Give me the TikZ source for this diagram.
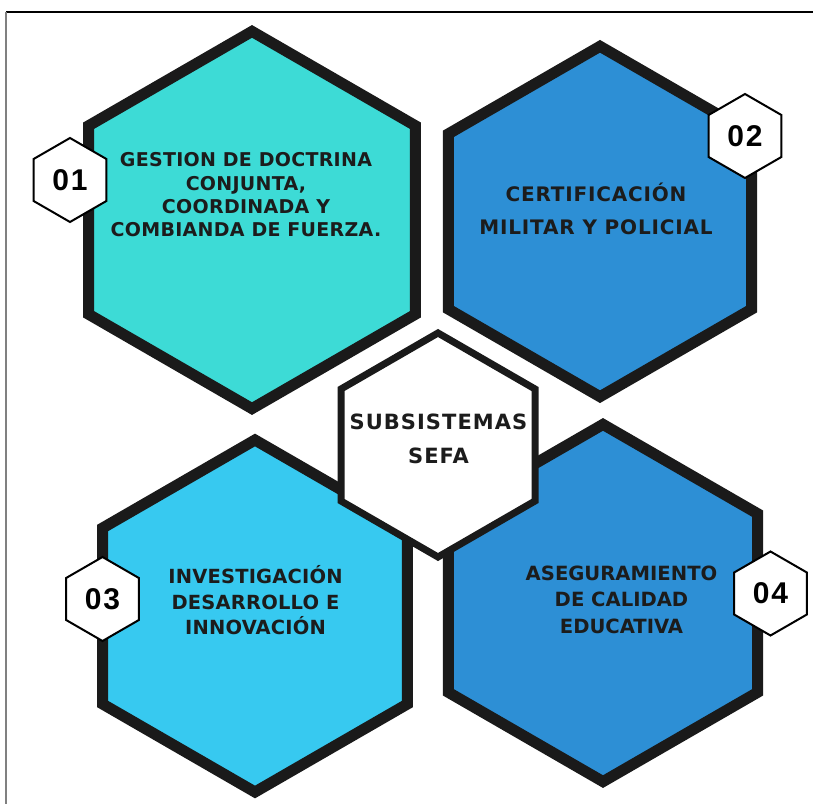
\documentclass[tikz,border=0pt]{standalone}
\usepackage{fontspec}
\setmainfont{Liberation Sans}
\newfontfamily\lblfont{DejaVu Sans}
\definecolor{hexline}{HTML}{1A1A1A}
\definecolor{tealA}{HTML}{3DDBD6}
\definecolor{blueB}{HTML}{2D8FD5}
\definecolor{skyC}{HTML}{37C9F0}
\definecolor{blueD}{HTML}{2D8FD5}
\definecolor{txt}{HTML}{1C1C1C}
\definecolor{frameg}{HTML}{808080}
\begin{document}
\begin{tikzpicture}[x=0.75pt,y=0.75pt,
  pics/hexa/.style={code={\path[pic actions] (90:#1) -- (150:#1) -- (210:#1) -- (270:#1) -- (330:#1) -- (30:#1) -- cycle;}},
  bighex/.style={draw=hexline, line width=8.25pt, line join=miter},
  midhex/.style={draw=hexline, line width=5.25pt, line join=miter, fill=white},
  badgehex/.style={draw=black, line width=1.5pt, line join=miter, fill=white},
  lbl/.style={align=center, text=txt, inner sep=0pt, outer sep=0pt},
  numlbl/.style={text=black, inner sep=0pt, outer sep=0pt,
    font={\bfseries\fontsize{22.5}{24}\selectfont\addfontfeatures{LetterSpace=6}}}
]
\useasboundingbox (0,0) rectangle (813,804);
% frame
\draw[black, line width=0.9pt] (6,792) -- (813,792);
\draw[frameg, line width=1.1pt] (6,792) -- (6,0);
% centres
\coordinate (h1) at (252,584);
\coordinate (h2) at (600,582.5);
\coordinate (h3) at (255,188);
\coordinate (h4) at (603,201);
\coordinate (hc) at (438,359);
\coordinate (b1) at (70,624);
\coordinate (b2) at (745,668);
\coordinate (b3) at (102.5,205);
\coordinate (b4) at (770.5,210.5);
% hexagons
\pic[bighex, fill=tealA] at (h1) {hexa=188.6};
\pic[bighex, fill=blueB] at (h2) {hexa=175.2};
\pic[bighex, fill=skyC] at (h3) {hexa=176};
\pic[bighex, fill=blueD] at (h4) {hexa=178.6};
\pic[midhex] at (hc) {hexa=112};
% badges
\pic[badgehex] at (b1) {hexa=42};
\pic[badgehex] at (b2) {hexa=42};
\pic[badgehex] at (b3) {hexa=42};
\pic[badgehex] at (b4) {hexa=42};
\node[numlbl] (n1) at (b1) {01};
\node[numlbl] (n2) at (b2) {02};
\node[numlbl] (n3) at (b3) {03};
\node[numlbl] (n4) at (b4) {04};
% texts
\node[lbl, font={\lblfont\bfseries\fontsize{14.25}{17.5}\selectfont\addfontfeatures{LetterSpace=1.5}}] (t1) at (246,609)
  {GESTION DE DOCTRINA\\CONJUNTA,\\COORDINADA Y\\COMBIANDA DE FUERZA.};
\node[lbl, font={\lblfont\bfseries\fontsize{15}{24.5}\selectfont\addfontfeatures{LetterSpace=4}}] (t2) at (596,595)
  {CERTIFICACIÓN\\MILITAR Y POLICIAL};
\node[lbl, font={\lblfont\bfseries\fontsize{15.75}{25.5}\selectfont\addfontfeatures{LetterSpace=5}}] (tc) at (438.5,365.3)
  {SUBSISTEMAS\\SEFA};
\node[lbl, font={\lblfont\bfseries\fontsize{14.6}{19.1}\selectfont\addfontfeatures{LetterSpace=1}}] (t3) at (255.5,203.5)
  {INVESTIGACIÓN\\DESARROLLO E\\INNOVACIÓN};
\node[lbl, font={\lblfont\bfseries\fontsize{14.7}{19.9}\selectfont}] (t4) at (621.5,204.5)
  {ASEGURAMIENTO\\DE CALIDAD\\EDUCATIVA};
\end{tikzpicture}
\end{document}
